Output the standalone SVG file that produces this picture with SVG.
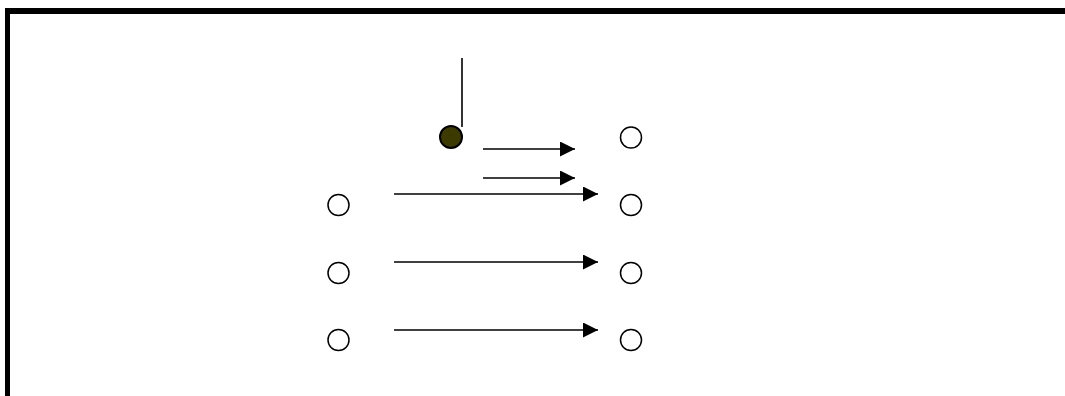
<svg xmlns="http://www.w3.org/2000/svg" width="1065" height="396" viewBox="0 0 1065 396">
  <style>
    .node { fill: #ffffff; stroke: #000000; stroke-width: 1.5; }
    .node.filled { fill: #3d3a00; stroke-width: 2; }
    .edge { stroke: #000000; stroke-width: 1.6; fill: none; }
    .frame { stroke: #000000; fill: none; }
  </style>
  <defs>
    <marker id="arrow" markerUnits="userSpaceOnUse" markerWidth="16" markerHeight="16" refX="15" refY="7.5" orient="auto">
      <path d="M0,0 L15,7.5 L0,15 Z" fill="#000000"/>
    </marker>
  </defs>
  <rect width="1065" height="396" fill="#ffffff"/>

  <!-- frame: top and left edges -->
  <g id="frame">
    <line class="frame" x1="5" y1="11" x2="1065" y2="11" stroke-width="6"/>
    <line class="frame" x1="7.5" y1="8" x2="7.5" y2="396" stroke-width="5"/>
  </g>

  <!-- connectors -->
  <g id="connectors">
    <line class="edge" x1="462" y1="58" x2="462" y2="127"/>
    <line class="edge" x1="483" y1="149" x2="575" y2="149" marker-end="url(#arrow)"/>
    <line class="edge" x1="483" y1="178" x2="575" y2="178" marker-end="url(#arrow)"/>
    <line class="edge" x1="394" y1="194" x2="598" y2="194" marker-end="url(#arrow)"/>
    <line class="edge" x1="394" y1="262" x2="598" y2="262" marker-end="url(#arrow)"/>
    <line class="edge" x1="394" y1="330" x2="598" y2="330" marker-end="url(#arrow)"/>
  </g>

  <!-- nodes -->
  <g id="source"><circle class="node filled" cx="451" cy="137" r="11"/></g>
  <g id="r0"><circle class="node" cx="631" cy="137.5" r="10.5"/></g>
  <g id="l1"><circle class="node" cx="338.5" cy="205" r="10.5"/></g>
  <g id="r1"><circle class="node" cx="631" cy="205" r="10.5"/></g>
  <g id="l2"><circle class="node" cx="338.5" cy="273" r="10.5"/></g>
  <g id="r2"><circle class="node" cx="631" cy="273" r="10.5"/></g>
  <g id="l3"><circle class="node" cx="338.5" cy="340" r="10.5"/></g>
  <g id="r3"><circle class="node" cx="631" cy="340" r="10.5"/></g>
</svg>
